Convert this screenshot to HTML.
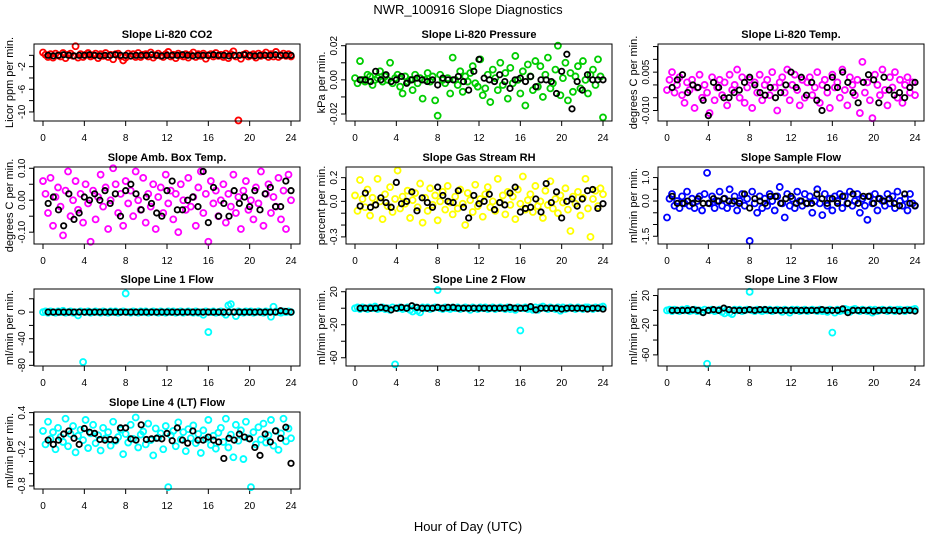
<!DOCTYPE html>
<html><head><meta charset="utf-8"><style>
html,body{margin:0;padding:0;background:#fff;}
svg{display:block;font-family:"Liberation Sans",sans-serif;}
</style></head><body>
<svg id="chart" width="936" height="540" viewBox="0 0 936 540" xmlns="http://www.w3.org/2000/svg">
<rect width="936" height="540" fill="#fff"/>
<text x="468" y="14" font-size="13" text-anchor="middle">NWR_100916  Slope Diagnostics</text>
<text x="468" y="531" font-size="13" text-anchor="middle">Hour of Day (UTC)</text>
</svg>
<script>
// x tick labels (hours)
const xTicks = [0,4,8,12,16,20,24];
// ---- colored series (evenly spaced over 0..24 h) and black series (every 0.5 h) ----
const co2 = [0.5,0.1,-0.3,0.2,-0.4,0.3,0,-0.2,0.4,-0.5,0.1,0.3,-0.1,1.6,-0.4,0.2,-0.3,0.1,0.4,-0.2,0,0.3,-0.5,0.2,-0.1,0.4,-0.3,0.1,-0.7,0.2,0.3,-0.2,-0.9,-0.4,0.3,-0.1,0.2,-0.3,0.4,-0.3,0.1,0.2,-0.2,0.5,-0.4,0,0.3,-0.1,-0.3,0.2,0.6,-0.2,0.1,-0.5,0.3,0,-0.2,0.2,-0.4,0.1,0.5,-0.3,0.2,-0.1,0.3,-0.6,0,0.2,-0.2,0.4,-0.1,0.1,-0.3,0.3,-0.5,0.2,0.7,-0.2,-11.5,-0.6,0.1,0.3,-0.2,0,0.2,-0.4,0.3,-0.1,0.1,0.5,-0.3,0.2,-0.2,0.6,-0.3,0,0.3,-0.1,0.2,-0.2];
const co2Mean = [0,-0.1,0,0.1,0,-0.1,0,0,0.1,0,-0.1,0,0,0.1,0,0,-0.1,0,0,0,0.1,0,-0.1,0,0,0,0.1,0,-0.1,0,0,0,0.1,0,0,-0.1,0,0,0.1,0,-0.1,0,0,0,0.1,0,0,0];
// pressure, units of 0.001 kPa/min
const pres = [1,-2,11,0,-1,3,2,-3,0,1,5,-1,2,0,10,-2,1,3,-4,-8,2,-1,0,-6,3,-2,1,-11,0,4,-1,2,-12,-21,3,0,-2,1,-8,13,0,-3,5,-7,2,-1,4,8,-2,-4,12,-9,-5,3,-13,6,1,-6,10,-3,4,-11,7,-2,14,0,-8,5,-15,9,2,-6,11,-4,8,-10,3,13,-5,-2,6,20,-9,1,10,-12,4,-7,2,8,-5,11,0,-8,3,6,-3,12,2,-22];
const presMean = [0,0,-1,5,0,3,-1,0,2,-2,0,1,0,-1,0,-3,1,0,0,2,-1,-6,5,12,1,0,-1,3,-1,-5,0,1,-1,2,-4,0,0,-1,-8,5,15,-17,-1,-6,3,0,0,0];
// Li-820 temp, units of 0.001 C/min
const temp = [-2,2,5,-3,0,3,-4,-7,1,-2,2,-9,-1,4,-5,0,-3,-11,3,-6,-1,2,-4,1,-8,4,-2,0,6,-5,3,-7,-1,2,-9,1,-3,4,-6,0,2,-4,5,-1,-10,1,3,-3,6,-6,0,4,-2,-8,2,-5,1,3,-4,-1,5,-7,0,2,-3,-9,4,-1,1,-5,6,-2,-8,3,0,-4,2,-11,9,-3,1,-6,-13,4,0,-4,6,-2,-8,3,-1,5,-5,2,-7,0,3,-3,1,-4];
const tempMean = [-1,2,4,-3,0,-1,-6,-12,1,-1,-5,-5,-3,-2,1,3,0,-3,-4,-1,-5,-3,0,5,-1,3,-4,1,-6,-10,-1,3,-1,5,1,-3,-7,1,4,2,-7,3,-2,-4,-3,-5,-1,1];
// amb box temp, units of 0.01 C/min
const amb = [6,2,-4,7,-8,1,4,-2,-11,3,9,-5,0,6,-3,2,-7,5,-1,-13,3,-6,1,8,-2,4,-9,0,10,5,-4,2,-8,6,-1,3,-5,9,0,-3,7,-7,2,-2,5,-9,1,4,-4,8,-1,3,-6,2,-10,5,0,-3,7,-2,1,-8,4,9,-4,2,-13,6,-1,3,-5,0,5,-7,2,-2,8,-4,1,-9,3,6,-3,0,-6,4,-1,9,-8,2,5,-4,1,-2,7,-6,3,-9,8,0];
const ambMean = [-1,1,-3,-8,2,-6,-4,1,0,2,0,3,-1,2,-5,3,5,2,-3,1,-1,-4,-5,3,6,-3,-3,0,1,-2,9,-7,4,-5,-1,-5,3,-1,1,-2,3,-3,2,4,-2,-2,6,3];
// RH, units of 0.01 %/min
const rh = [5,-8,18,2,-5,10,-12,3,-3,19,0,-15,6,-4,12,-9,2,26,-6,4,-2,9,-14,1,7,-5,15,-18,3,-8,11,-3,5,-16,0,8,-7,13,-1,-11,4,-6,10,-2,-20,7,1,-9,14,-4,2,-13,6,12,-5,0,-8,19,-1,5,-11,8,-3,4,-15,10,-2,21,-7,1,6,-9,13,-4,0,-14,9,-3,17,-6,2,-10,5,-1,11,-7,-25,4,-2,8,-12,3,19,-6,-30,2,9,-4,11,6];
const rhMean = [-4,7,-5,-3,3,-1,-5,16,-2,0,8,-8,3,-1,-5,12,5,0,-1,9,-5,-14,5,-2,0,6,-7,-1,-3,7,12,-9,-6,-5,2,-9,15,-1,8,-14,0,2,-4,2,9,10,-6,-2];
// sample flow, units of 0.1 ml/min/min
const sflow = [-7,1,3,-2,0,-3,2,-1,4,-2,1,-3,0,2,-4,3,12,-1,2,-3,0,4,-2,1,-3,5,-1,2,-4,0,3,-2,1,-17,4,-1,-5,2,-3,1,-2,3,0,-4,2,6,-1,-7,3,-2,1,-3,4,0,-2,3,-1,2,-5,0,5,-1,-6,3,-2,1,-4,2,0,3,-3,2,-1,4,-2,0,3,-5,1,-2,-8,2,-1,3,-4,1,0,-2,3,-1,2,-3,4,0,-2,1,-4,3,-1,-2];
const sflowMean = [2,-1,-1,0,-1,1,-1,-1,1,0,1,0,0,-1,3,-3,1,0,-1,2,2,-1,1,2,-1,0,-1,-1,3,1,-1,1,-1,2,-1,3,-1,2,2,-1,1,0,1,-1,-2,3,-1,-2];
// line flows, ml/min/min
const l1 = [0,1,-1,1,0,-1,1,0,2,-1,0,1,-1,0,-5,1,-75,0,1,-1,0,1,0,-1,1,0,-1,1,0,1,-1,0,1,28,0,-1,1,0,-1,1,0,1,-1,0,1,0,-1,1,0,-1,1,0,1,-1,0,1,-1,0,1,0,-1,1,-1,0,-4,1,-30,0,1,-1,0,1,-1,-4,10,12,0,-6,1,0,-1,1,0,1,-1,0,1,0,-1,1,0,-7,8,1,0,-1,1,0,1,0];
const l1Mean = [0,0,0,0,0,0,0,0,0,0,0,0,0,0,0,0,0,0,0,0,0,0,0,0,0,0,0,0,0,0,0,0,0,0,0,0,0,0,0,0,0,0,0,0,0,2,1,0];
const l2 = [0,1,-1,1,0,-1,1,0,2,-1,0,1,-1,0,-2,1,-68,0,1,-1,0,1,-2,-4,1,-3,-5,1,0,1,-1,0,1,22,0,-1,1,0,-1,1,0,1,-1,0,1,0,-2,1,0,-1,1,0,1,-1,0,1,-1,0,1,0,-1,1,-1,0,-2,1,-27,0,1,-1,0,-2,1,-2,1,2,0,-1,1,0,-1,1,-3,1,-1,0,1,0,-1,1,0,-1,1,1,0,-1,1,0,1,2];
const l2Mean = [0,0,0,0,1,0,-2,0,1,0,3,1,0,0,0,1,0,1,1,0,0,0,0,0,0,0,0,0,0,1,0,0,0,2,-2,0,0,0,0,-1,0,0,0,0,-1,0,0,-1];
const l3 = [0,1,-1,1,0,-1,1,0,2,-1,0,1,-1,0,-2,1,-72,0,1,-1,0,1,-2,-4,1,-3,-5,1,0,1,-1,0,1,25,0,-1,1,0,-1,1,0,1,-1,0,1,0,-2,1,0,-3,1,0,1,-1,0,1,-1,0,1,0,-1,1,-1,0,-2,1,-30,-3,1,-1,0,2,1,-2,1,2,0,-1,1,0,-1,1,-3,1,-1,0,1,0,-1,1,0,-1,1,1,0,-1,1,0,1,2];
const l3Mean = [0,0,0,0,1,0,-3,0,1,0,3,1,0,0,0,1,0,1,1,0,0,0,0,0,0,0,0,0,0,1,0,0,0,2,-3,0,0,0,0,-1,0,0,0,0,-1,0,0,-1];
// line 4 flow, units of 0.01 ml/min/min
const l4 = [10,-12,25,-3,8,-20,15,0,-8,30,-15,5,18,-25,2,12,-5,28,-18,6,20,-10,3,-22,15,-2,8,-14,25,-6,0,12,-28,5,-9,20,-3,32,-17,4,9,-12,22,-5,-30,14,-1,6,-20,18,-82,3,10,-15,24,-4,8,-23,13,-2,19,-10,5,-26,11,-3,28,-13,2,-19,7,15,-8,30,-17,4,-33,20,-6,11,-36,25,-2,-82,8,-12,16,-4,22,-9,3,28,-14,10,-21,6,30,-7,14,-2];
const l4Mean = [-5,-12,-5,5,10,-2,-12,14,8,6,-4,-5,-4,-5,15,15,-3,-5,20,-4,-3,-2,-3,6,-6,15,-5,-10,10,-5,-5,0,-5,-8,-35,-2,-5,5,0,-3,-17,-30,5,-8,10,-2,16,-43];

// y tick values (in the same units as the arrays) and printed labels
const p1Ticks=[0,-2,-4,-6,-8,-10], p1Labels={"-2":"-2","-6":"-6","-10":"-10"};
const p2Ticks=[-20,-10,0,10,20], p2Labels={"-20":"-0.02","0":"0.00","20":"0.02"};
const p3Ticks=[-10,-5,0,5,10,15], p3Labels={"-10":"-0.010","5":"0.005"};
const p4Ticks=[-10,-5,0,5,10], p4Labels={"-10":"-0.10","0":"0.00","10":"0.10"};
const p5Ticks=[-30,-20,-10,0,10,20], p5Labels={"-30":"-0.3","0":"0.0","20":"0.2"};
const p6Ticks=[-15,-10,-5,0,5,10], p6Labels={"-15":"-1.5","0":"0.0","10":"1.0"};
const p7Ticks=[-80,-60,-40,-20,0,20], p7Labels={"-80":"-80","-40":"-40","0":"0"};
const p8Ticks=[-60,-40,-20,0,20], p8Labels={"-60":"-60","-20":"-20","20":"20"};
const p10Ticks=[-80,-60,-40,-20,0,20,40], p10Labels={"-80":"-0.8","-20":"-0.2","40":"0.4"};

const panels = [
 {name:'co2',title:'Slope Li-820 CO2',ylab:'Licor ppm per min.',col:0,row:0,ymin:-11.6,ymax:2.0,ticks:p1Ticks,labels:p1Labels,color:'#ff0000',pts:co2,mean:co2Mean},
 {name:'pressure',title:'Slope Li-820 Pressure',ylab:'kPa per min.',col:1,row:0,ymin:-24.1,ymax:21,ticks:p2Ticks,labels:p2Labels,color:'#00cd00',pts:pres,mean:presMean},
 {name:'li820-temp',title:'Slope Li-820 Temp.',ylab:'degrees C per min.',col:2,row:0,ymin:-14.1,ymax:16,ticks:p3Ticks,labels:p3Labels,color:'#ff00ff',pts:temp,mean:tempMean},
 {name:'amb-box-temp',title:'Slope Amb. Box Temp.',ylab:'degrees C per min.',col:0,row:1,ymin:-13.7,ymax:10.4,ticks:p4Ticks,labels:p4Labels,color:'#ff00ff',pts:amb,mean:ambMean},
 {name:'gas-stream-rh',title:'Slope Gas Stream RH',ylab:'percent per min.',col:1,row:1,ymin:-36,ymax:29,ticks:p5Ticks,labels:p5Labels,color:'#ffff00',pts:rh,mean:rhMean},
 {name:'sample-flow',title:'Slope Sample Flow',ylab:'ml/min per min.',col:2,row:1,ymin:-18.3,ymax:14.5,ticks:p6Ticks,labels:p6Labels,color:'#0000ff',pts:sflow,mean:sflowMean},
 {name:'line1-flow',title:'Slope Line 1 Flow',ylab:'ml/min per min.',col:0,row:2,ymin:-81,ymax:34.7,ticks:p7Ticks,labels:p7Labels,color:'#00ffff',pts:l1,mean:l1Mean},
 {name:'line2-flow',title:'Slope Line 2 Flow',ylab:'ml/min per min.',col:1,row:2,ymin:-70,ymax:23.3,ticks:p8Ticks,labels:p8Labels,color:'#00ffff',pts:l2,mean:l2Mean},
 {name:'line3-flow',title:'Slope Line 3 Flow',ylab:'ml/min per min.',col:2,row:2,ymin:-75,ymax:28.8,ticks:p8Ticks,labels:p8Labels,color:'#00ffff',pts:l3,mean:l3Mean},
 {name:'line4-flow',title:'Slope Line 4 (LT) Flow',ylab:'ml/min per min.',col:0,row:3,ymin:-85,ymax:41,ticks:p10Ticks,labels:p10Labels,color:'#00ffff',pts:l4,mean:l4Mean}
];

const colX=[34,346,658], rowY=[44,167,289,412], BW=266, BH=77;
const NS='http://www.w3.org/2000/svg';
const svg=document.getElementById('chart');
function mk(tag,attrs,parent){const e=document.createElementNS(NS,tag);for(const k in attrs)e.setAttribute(k,attrs[k]);parent.appendChild(e);return e;}

panels.forEach(p=>{
  const bx=colX[p.col], by=rowY[p.row];
  const xs=h=>bx+9+h*(BW-18)/24;
  const ys=v=>by+BH-(v-p.ymin)/(p.ymax-p.ymin)*BH;
  const g=mk('g',{},svg);
  
  
  const t=mk('text',{x:bx+BW/2,y:by-6,'font-size':11,'font-weight':'bold','text-anchor':'middle'},g);
  t.textContent=p.title;
  
  
  const yl=mk('text',{transform:`translate(${bx-21},${by+BH/2}) rotate(-90)`,'font-size':11,'text-anchor':'middle'},g);
  yl.textContent=p.ylab;
  
  
  // y axis
  const ya=mk('g',{stroke:'#000','stroke-width':1},g);
  
  
  const tv=p.ticks.map(ys);
  mk('line',{x1:bx-0.5,x2:bx-0.5,y1:Math.min(...tv),y2:Math.max(...tv)},ya);
  p.ticks.forEach(v=>{
    const y=ys(v);
    mk('line',{x1:bx-5,x2:bx,y1:y,y2:y},ya);
    if(p.labels[String(v)]!==undefined){
      const tl=mk('text',{transform:`translate(${bx-9},${y}) rotate(-90)`,'font-size':10,'text-anchor':'middle',stroke:'none'},ya);
      tl.textContent=p.labels[String(v)];
      
      
    }
  });
  // x axis ticks
  const xa=mk('g',{stroke:'#000','stroke-width':1},g);
  
  
  xTicks.forEach(h=>{
    const x=xs(h);
    mk('line',{x1:x,x2:x,y1:by+BH,y2:by+BH+5},xa);
    const tl=mk('text',{x:x,y:by+BH+20,'font-size':10,'text-anchor':'middle',stroke:'none'},xa);
    tl.textContent=h;
    
    
  });
  // colored points
  const cg=mk('g',{fill:'none',stroke:p.color,'stroke-width':1.8},g);
  
  
  const n=p.pts.length;
  p.pts.forEach((v,i)=>{
    const c=mk('circle',{cx:xs(i*24/(n-1)),cy:ys(v),r:3},cg);
    
    
  });
  // black points
  const kg=mk('g',{fill:'none',stroke:'#000','stroke-width':1.8},g);
  
  
  p.mean.forEach((v,i)=>{
    const c=mk('circle',{cx:xs((i+1)*0.5),cy:ys(v),r:2.7},kg);
    
    
  });
  const box=mk('rect',{x:bx,y:by,width:BW,height:BH,fill:'none',stroke:'#000','stroke-width':1},g);
  
  
});
</script>
</body></html>
